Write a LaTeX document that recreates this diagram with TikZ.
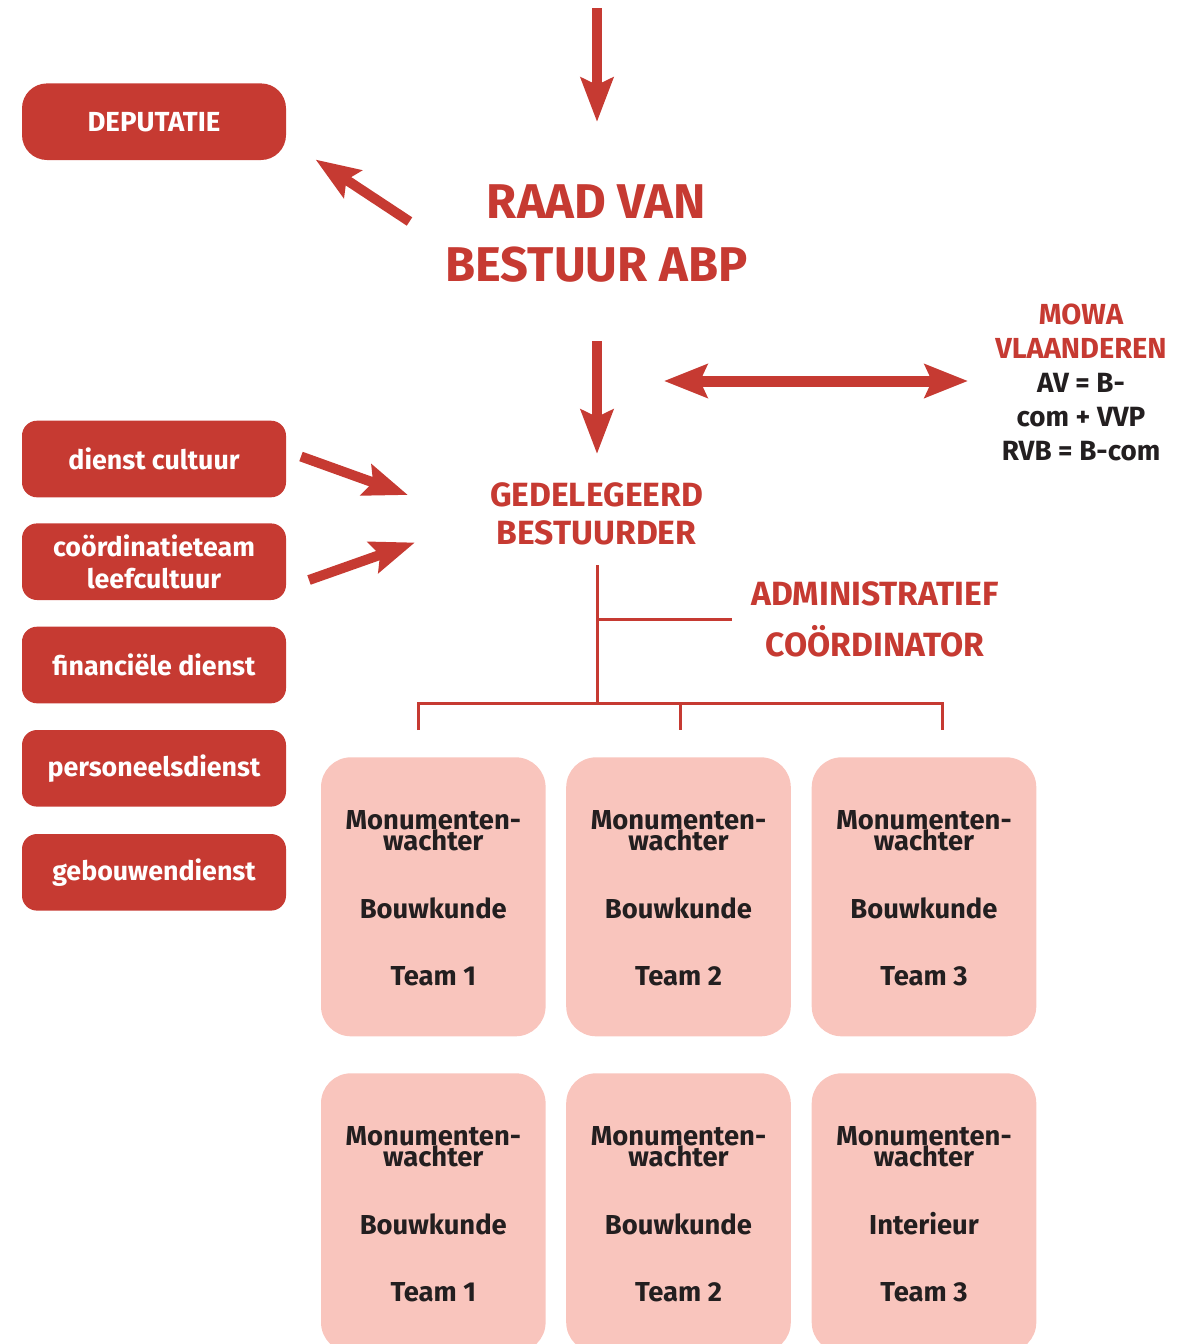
\documentclass[tikz,border=0pt]{standalone}
\usepackage{fontspec}
\setmainfont{Fira Sans}
\usetikzlibrary{arrows.meta}
\definecolor{abpred}{RGB}{198,58,50}
\definecolor{abppink}{RGB}{249,197,189}
\definecolor{abpdark}{RGB}{35,31,32}
\tikzset{
  redbox/.style={draw=none, fill=abpred, rounded corners=7.5pt, minimum width=132pt, minimum height=38.3pt, inner sep=0pt, align=center, text=white, font=\fontsize{13.4}{15.9}\selectfont\bfseries},
  pinkbox/.style={draw=none, fill=abppink, rounded corners=15pt, minimum width=112.3pt, minimum height=139.5pt, inner sep=0pt},
  boxtxt/.style={anchor=base, inner sep=0pt, text=abpdark, font=\fontsize{13.7}{15}\selectfont\bfseries},
  redtitle/.style={anchor=base, inner sep=0pt, text=abpred, font=\fontsize{24.4}{28}\selectfont\bfseries},
  redhead/.style={anchor=base, inner sep=0pt, text=abpred, font=\fontsize{16.8}{18}\selectfont\bfseries},
  mowared/.style={anchor=base, inner sep=0pt, text=abpred, font=\fontsize{14.5}{16}\selectfont\bfseries},
  mowadark/.style={anchor=base, inner sep=0pt, text=abpdark, font=\fontsize{13.9}{15}\selectfont\bfseries},
  bigarrow/.style={draw=abpred, line width=5pt, -{Stealth[length=22pt,width=16pt,inset=3.5pt]}},
  dblarrow/.style={draw=abpred, line width=5.5pt, {Stealth[length=21.5pt,width=16.5pt,inset=3.5pt]}-{Stealth[length=21.5pt,width=16.5pt,inset=3.5pt]}},
  orgline/.style={draw=abpred, line width=1.5pt}
}
\begin{document}
\begin{tikzpicture}[x=0.5pt,y=-0.5pt]
\useasboundingbox (0,0) rectangle (1195,1344);
\clip (0,0) rectangle (1195,1344);

% top part
\node[redbox, rounded corners=12.5pt, minimum height=38.3pt, font=\fontsize{13.8}{15}\selectfont\bfseries] (deputatie) at (154,121.7) {\raisebox{-1pt}{DEPUTATIE}};
\node[redtitle] (raad1) at (596.5,218.3) {RAAD VAN};
\node[redtitle] (raad2) at (596.5,281.7) {BESTUUR ABP};

\coordinate (topstart) at (597,8);
\coordinate (topend) at (597,122);
\draw[bigarrow] (topstart) -- (topend);

\coordinate (depstart) at (409.5,221.5);
\coordinate (depend) at (315.5,159.5);
\draw[bigarrow] (depstart) -- (depend);

\coordinate (midstart) at (597,341);
\coordinate (midend) at (597,454);
\draw[bigarrow] (midstart) -- (midend);

\coordinate (dblL) at (664,381);
\coordinate (dblR) at (968,381);
\draw[dblarrow] (dblL) -- (dblR);

% MOWA
\node[mowared] (mowa1) at (1081,324) {MOWA};
\node[mowared] (mowa2) at (1081,358) {VLAANDEREN};
\node[mowadark] (mowa3) at (1081,392) {AV = B-};
\node[mowadark] (mowa4) at (1081,426) {com + VVP};
\node[mowadark] (mowa5) at (1081,460) {RVB = B-com};

% left services
\node[redbox] (cultuur) at (154,459) {\raisebox{-1pt}{dienst cultuur}};
\node[redbox] (coord) at (154,561.7) {coördinatieteam\\leefcultuur};
\node[redbox] (financ) at (154,665) {financiële dienst};
\node[redbox] (personeel) at (154,768.3) {\raisebox{-1pt}{personeelsdienst}};
\node[redbox] (gebouw) at (154,872.3) {\raisebox{-1pt}{gebouwendienst}};

\coordinate (culstart) at (301,456.5);
\coordinate (culend) at (408,495);
\draw[bigarrow] (culstart) -- (culend);
\coordinate (coostart) at (309,580);
\coordinate (cooend) at (415,542.5);
\draw[bigarrow] (coostart) -- (cooend);

% gedelegeerd bestuurder
\node[redhead] (ged1) at (596.5,506.7) {GEDELEGEERD};
\node[redhead] (ged2) at (596.5,544.3) {BESTUURDER};

\node[redhead] (adm1) at (875,605) {ADMINISTRATIEF};
\node[redhead] (adm2) at (875,656.7) {COÖRDINATOR};

% org lines
\coordinate (vtop) at (597,565);
\coordinate (vbranch) at (597,619.3);
\coordinate (branchend) at (731.5,619.3);
\coordinate (vbot) at (597,703);
\coordinate (barL) at (418,703);
\coordinate (barM) at (680,703);
\coordinate (barR) at (942,703);
\coordinate (dropL) at (418,730);
\coordinate (dropM) at (680,730);
\coordinate (dropR) at (942,730);
\draw[orgline] (vtop) -- (vbot);
\draw[orgline] (vbranch) -- (branchend);
\draw[orgline, line cap=butt] (dropL) -- (barL) -- (barR) -- (dropR);
\draw[orgline] (barM) -- (dropM);

% pink team boxes
\foreach \cx/\name/\spec/\team in {433.3/a/Bouwkunde/Team 1, 678.5/b/Bouwkunde/Team 2, 924/c/Bouwkunde/Team 3}{
  \node[pinkbox] (box1\name) at (\cx,896.8) {};
  \node[boxtxt] (m1\name) at (\cx,829) {Monumenten-};
  \node[boxtxt] (w1\name) at (\cx,850.5) {wachter};
  \node[boxtxt] (s1\name) at (\cx,918.3) {\spec};
  \node[boxtxt] (t1\name) at (\cx,985.7) {\team};
}
\foreach \cx/\name/\spec/\team in {433.3/a/Bouwkunde/Team 1, 678.5/b/Bouwkunde/Team 2, 924/c/Interieur/Team 3}{
  \node[pinkbox] (box2\name) at (\cx,1212.8) {};
  \node[boxtxt] (m2\name) at (\cx,1145) {Monumenten-};
  \node[boxtxt] (w2\name) at (\cx,1166.5) {wachter};
  \node[boxtxt] (s2\name) at (\cx,1234.3) {\spec};
  \node[boxtxt] (t2\name) at (\cx,1301.7) {\team};
}
\end{tikzpicture}
\end{document}
